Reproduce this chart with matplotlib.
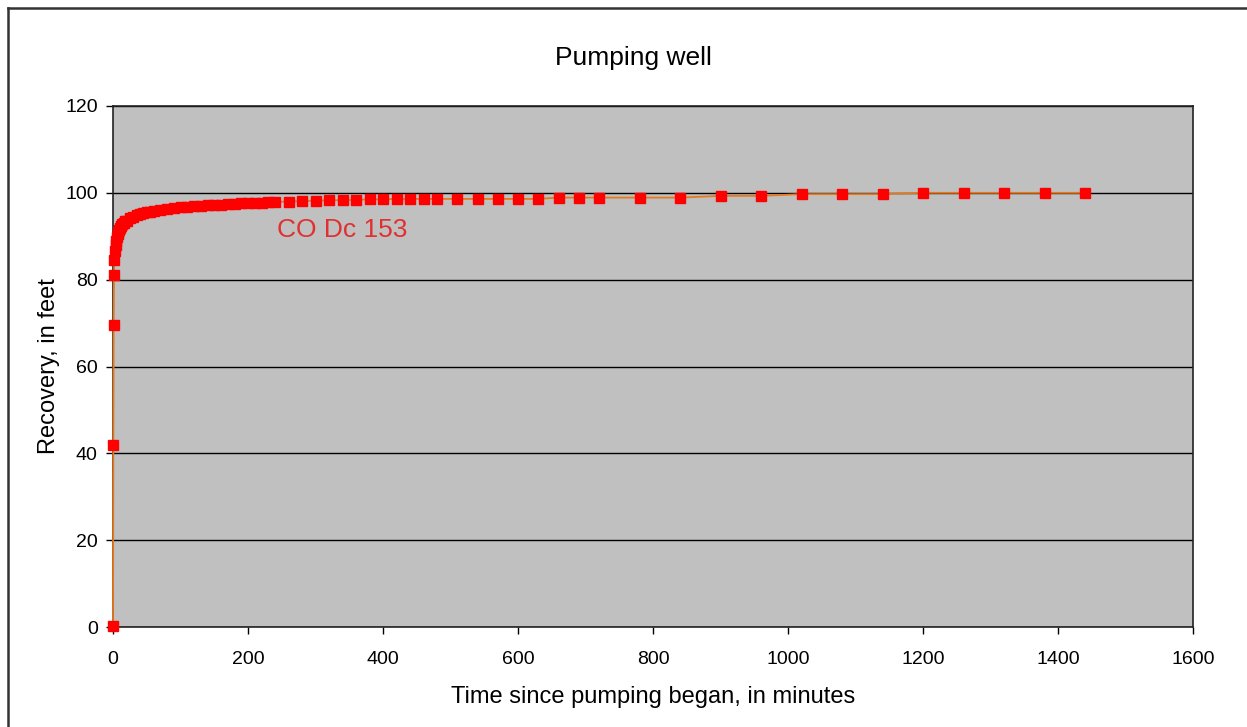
import matplotlib
matplotlib.use("Agg")
import matplotlib.pyplot as plt
from matplotlib.lines import Line2D

plt.rcParams['font.family'] = ['Liberation Sans', 'DejaVu Sans']

# recovery data
time_min = [0, 0.5, 1, 1.5, 2, 3, 4, 5, 6, 7, 8, 9, 10, 12, 14, 16, 18, 20,
            25, 30, 35, 40, 45, 50, 55, 60, 70, 80, 90, 100, 110, 120, 130,
            140, 150, 160, 170, 180, 190, 200, 210, 220, 230, 240,
            260, 280, 300, 320, 340, 360, 380, 400, 420, 440, 460, 480,
            510, 540, 570, 600, 630, 660, 690, 720, 780, 840, 900, 960,
            1020, 1080, 1140, 1200, 1260, 1320, 1380, 1440]
recovery_ft = [0.2, 42.0, 69.6, 81.0, 84.6, 86.5, 88.0, 89.0, 89.8, 90.5, 91.0,
               91.5, 91.9, 92.4, 92.8, 93.1, 93.4, 93.6, 94.1, 94.5, 94.8, 95.1,
               95.3, 95.5, 95.7, 95.8, 96.1, 96.3, 96.5, 96.7, 96.8, 96.9, 97.0,
               97.1, 97.2, 97.3, 97.4, 97.5, 97.6, 97.6, 97.7, 97.7, 97.8, 97.9,
               98.0, 98.1, 98.2, 98.3, 98.3, 98.4, 98.5, 98.5, 98.6, 98.6, 98.6,
               98.6, 98.6, 98.6, 98.6, 98.6, 98.6, 98.9, 98.9, 98.9, 98.9, 98.9,
               99.3, 99.3, 99.7, 99.7, 99.7, 100.0, 100.0, 100.0, 100.0, 100.0]
well_name = "CO Dc 153"
x_ticks = [0, 200, 400, 600, 800, 1000, 1200, 1400, 1600]
y_ticks = [0, 20, 40, 60, 80, 100, 120]

W, H = 1247, 727
fig = plt.figure(figsize=(W / 100, H / 100), dpi=100)
ax = fig.add_axes([113 / W, 1 - 627 / H, 1080 / W, 521 / H])
ax.set_facecolor('#C0C0C0')

ax.plot(time_min, recovery_ft, color='#E8781E', lw=1.3, zorder=5, clip_on=False)
ax.plot(time_min, recovery_ft, ls='none', marker='s', ms=7.3,
        mfc='#FF0000', mec='#FF0000', zorder=6, clip_on=False)

ax.set_xlim(0, 1600)
ax.set_ylim(0, 120)
ax.set_xticks(x_ticks)
ax.set_yticks(y_ticks)
ax.yaxis.grid(True, color='black', lw=1)
ax.set_axisbelow(True)
for s in ax.spines.values():
    s.set_color('#222222')
    s.set_linewidth(1.2)
ax.tick_params(direction='out', length=5, width=1, labelsize=14, colors='black')
ax.tick_params(axis='x', pad=12)
ax.tick_params(axis='y', pad=6)

ax.set_xlabel("Time since pumping began, in minutes", fontsize=17, labelpad=13)
ax.set_ylabel("Recovery, in feet", fontsize=17, labelpad=4)
ax.text(243, 91.4, well_name, color='#E03030', fontsize=19, va='center', ha='left')

fig.text(633 / W, 1 - 58 / H, "Pumping well", fontsize=19, ha='center', va='center')

# outer frame (left and top edges visible)
fig.add_artist(Line2D([7.5 / W, 7.5 / W], [0, 1 - 7.5 / H], transform=fig.transFigure,
                      color='#333333', lw=1.8))
fig.add_artist(Line2D([7.5 / W, 1], [1 - 7.5 / H, 1 - 7.5 / H], transform=fig.transFigure,
                      color='#333333', lw=1.8))

fig.savefig("out.png", dpi=100)
